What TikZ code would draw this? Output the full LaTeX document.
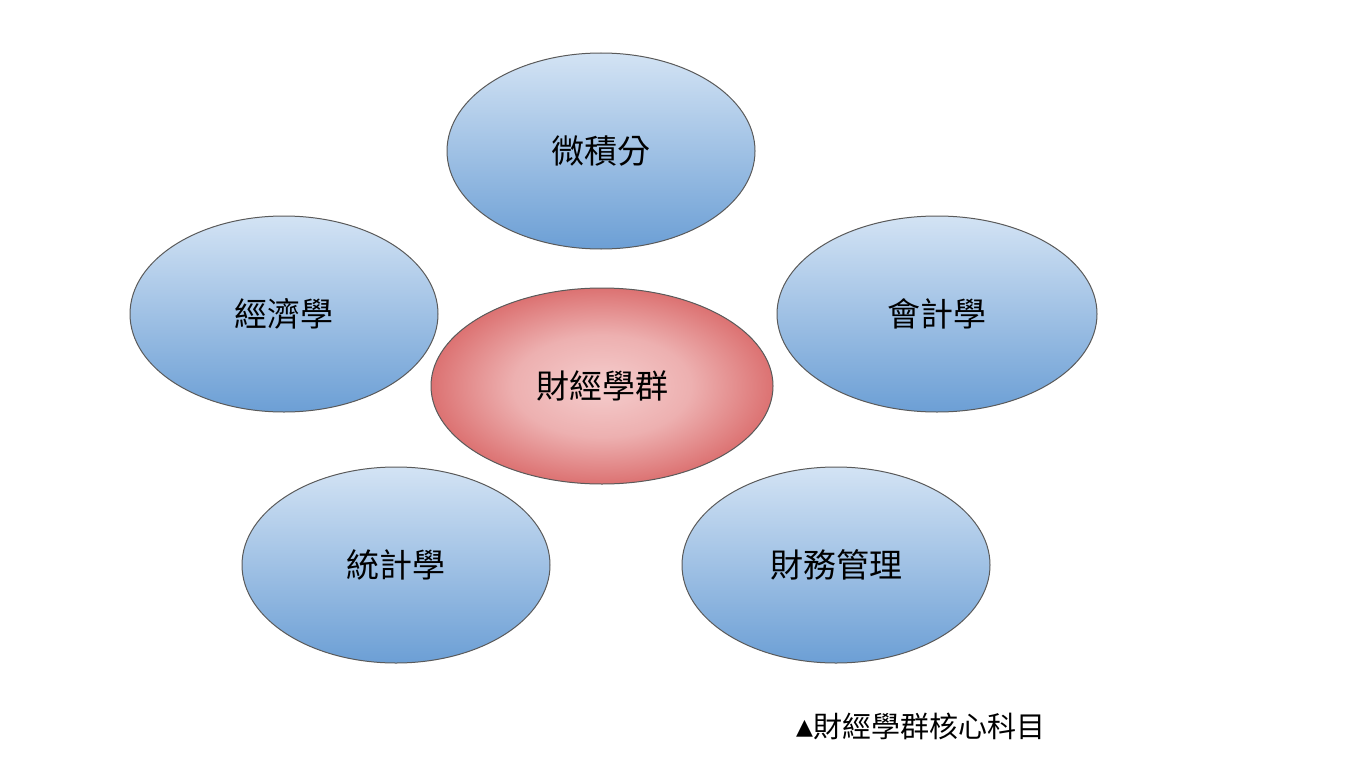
\documentclass[tikz,border=0pt]{standalone}
\usepackage{fontspec}
\setmainfont{Noto Sans CJK TC}
\newfontfamily\symfont{DejaVu Sans}
\usetikzlibrary{shapes.geometric,shadings}
\definecolor{bluetop}{HTML}{D3E3F4}
\definecolor{bluebot}{HTML}{6C9FD5}
\definecolor{rim}{HTML}{5A5A5A}
\definecolor{redA}{HTML}{F5CDCD}
\definecolor{redB}{HTML}{EDB0B0}
\definecolor{redC}{HTML}{DC7272}
\pgfdeclareradialshading{coreshade}{\pgfpoint{0bp}{0bp}}{%
  color(0bp)=(redA);
  color(13bp)=(redB);
  color(25bp)=(redC);
  color(50bp)=(redC)}
\tikzset{
  subj/.style={ellipse, draw=rim, line width=1pt, inner sep=0pt,
    minimum width=308pt, minimum height=196pt,
    top color=bluetop, bottom color=bluebot,
    font=\fontsize{33}{38}\selectfont},
  core/.style={ellipse, draw=rim, line width=1pt, inner sep=0pt,
    minimum width=342pt, minimum height=196pt,
    shading=coreshade,
    font=\fontsize{33}{38}\selectfont},
  caption/.style={font=\fontsize{29}{32}\selectfont, inner sep=0pt, anchor=west}
}
\begin{document}
\begin{tikzpicture}[x=1pt,y=-1pt]
\useasboundingbox[fill=white] (0,0) rectangle (1348,757);
\node[subj] (calc) at (601,151) {微積分};
\node[subj] (econ) at (284,314) {經濟學};
\node[subj, minimum width=320pt] (acct) at (937,314) {會計學};
\node[core] (center) at (602,386) {財經學群};
\node[subj] (stat) at (396,565) {統計學};
\node[subj] (fin) at (836,565) {財務管理};
\node[caption] (cap) at (796,726) {\raisebox{3pt}{\symfont\fontsize{22}{24}\selectfont ▲}財經學群核心科目};
\end{tikzpicture}
\end{document}
